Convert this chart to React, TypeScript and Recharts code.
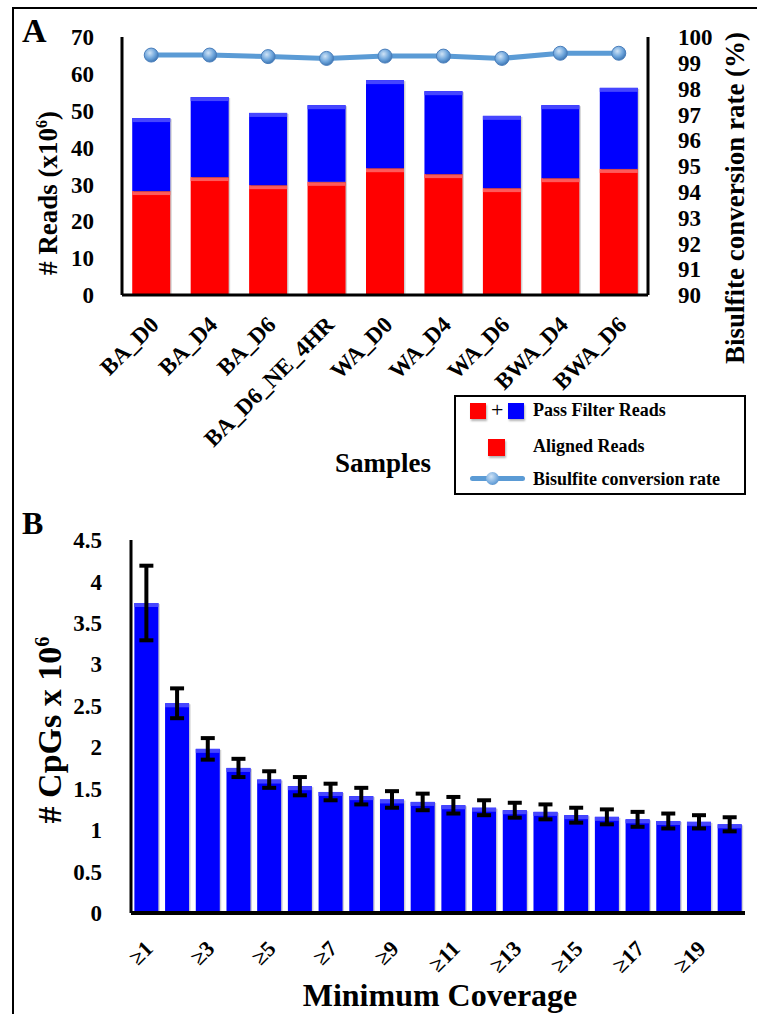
import { ComposedChart, Bar, Line, XAxis, YAxis, ErrorBar } from "recharts";

const samples = ["BA_D0", "BA_D4", "BA_D6", "BA_D6_NE_4HR", "WA_D0", "WA_D4", "WA_D6", "BWA_D4", "BWA_D6"];
const passFilterReads = [48.0, 53.7, 49.4, 51.5, 58.3, 55.3, 48.6, 51.5, 56.2];
const alignedReads = [28.2, 32.0, 29.8, 30.7, 34.4, 32.8, 29.0, 31.7, 34.2];
const conversionRate = [99.3, 99.3, 99.24, 99.17, 99.26, 99.26, 99.17, 99.37, 99.37];

const coverage = ["≥1", "≥2", "≥3", "≥4", "≥5", "≥6", "≥7", "≥8", "≥9", "≥10",
  "≥11", "≥12", "≥13", "≥14", "≥15", "≥16", "≥17", "≥18", "≥19", "≥20"];
const cpgs = [3.74, 2.53, 1.98, 1.75, 1.61, 1.53, 1.46, 1.41, 1.37, 1.34,
  1.3, 1.27, 1.24, 1.22, 1.18, 1.16, 1.13, 1.11, 1.1, 1.07];
const cpgErr = [0.45, 0.18, 0.13, 0.11, 0.1, 0.11, 0.1, 0.1, 0.1, 0.1,
  0.1, 0.09, 0.09, 0.09, 0.09, 0.09, 0.09, 0.09, 0.08, 0.085];

const readsTicks = [0, 10, 20, 30, 40, 50, 60, 70];
const rateTicks = [90, 91, 92, 93, 94, 95, 96, 97, 98, 99, 100];
const cpgTicks = [0, 0.5, 1, 1.5, 2, 2.5, 3, 3.5, 4, 4.5];

const readsData = samples.map((s, i) => ({
  sample: s,
  aligned: alignedReads[i],
  rest: passFilterReads[i] - alignedReads[i],
  rate: conversionRate[i],
}));
const cpgData = coverage.map((c, i) => ({ cov: c, cpgs: cpgs[i], err: cpgErr[i] }));

const FONT = "'Liberation Serif', 'Times New Roman', serif";
const RED = "#ff0000";
const BLUE = "#0000ff";

const bevel = (color: string, light: string) => (props: any) => {
  const { x, y, width, height } = props;
  if (!height || height <= 0) return null;
  return (
    <g>
      <rect x={x + 1.5} y={y + 1} width={width} height={height} fill="rgba(0,0,0,0.18)" />
      <rect x={x} y={y} width={width} height={height} fill={color} />
      <rect x={x} y={y} width={width} height={Math.min(4, height)} fill={light} />
    </g>
  );
};

const SlantTick = ({ x, y, payload, dx, dy, size }: any) => (
  <g transform={`translate(${x + dx},${y + dy})`}>
    <text transform="rotate(-45)" textAnchor="end" fontSize={size} fontWeight="bold" fontFamily={FONT} fill="#000">
      {payload.value}
    </text>
  </g>
);

const RateDot = (props: any) => {
  const { cx, cy, index } = props;
  return <circle key={index} cx={cx} cy={cy} r={7} fill="url(#dotGrad)" stroke="#4a7ebb" strokeWidth={1} />;
};

const tickStyle = { fill: "#000", fontSize: 23, fontWeight: "bold", fontFamily: FONT };

const abs = (left: number, top: number, extra: any = {}) => ({
  position: "absolute" as const, left, top, whiteSpace: "nowrap" as const, ...extra,
});

export default function App() {
  return (
    <div style={{ position: "relative", width: 757, height: 1014, background: "#fff", fontFamily: FONT, fontWeight: "bold", color: "#000" }}>
      <style>{`body{margin:0}`}</style>

      {/* frame */}
      <div style={abs(12, 7, { width: 745, height: 2, background: "#000" })} />
      <div style={abs(12, 7, { width: 2, height: 1007, background: "#000" })} />

      {/* Panel A */}
      <div style={abs(0, 0)}>
        <ComposedChart width={757} height={500} data={readsData} barCategoryGap="17.5%"
          margin={{ top: 37, right: 0, bottom: 0, left: 0 }}>
          <defs>
            <radialGradient id="dotGrad" cx="40%" cy="35%" r="65%">
              <stop offset="0%" stopColor="#cfe3f6" />
              <stop offset="60%" stopColor="#6fa6dc" />
              <stop offset="100%" stopColor="#3f78b5" />
            </radialGradient>
          </defs>
          <XAxis dataKey="sample" height={205} interval={0} tickLine={false} tickSize={0} tickMargin={0}
            axisLine={{ stroke: "#000", strokeWidth: 3 }}
            tick={<SlantTick dx={9} dy={31} size={23} />} />
          <YAxis yAxisId="left" width={122} domain={[0, 70]} ticks={readsTicks} interval={0}
            tickLine={false} tickMargin={22} axisLine={{ stroke: "#000", strokeWidth: 3 }} tick={tickStyle} />
          <YAxis yAxisId="right" orientation="right" width={109} domain={[90, 100]} ticks={rateTicks} interval={0}
            tickLine={false} tickMargin={24} axisLine={{ stroke: "#000", strokeWidth: 3 }} tick={tickStyle} />
          <Bar yAxisId="left" dataKey="aligned" stackId="r" fill={RED} shape={bevel(RED, "#ff5a5a")} isAnimationActive={false} />
          <Bar yAxisId="left" dataKey="rest" stackId="r" fill={BLUE} shape={bevel(BLUE, "#4646ff")} isAnimationActive={false} />
          <Line yAxisId="right" dataKey="rate" stroke="#5b9bd5" strokeWidth={5} dot={<RateDot />}
            activeDot={false} isAnimationActive={false} />
        </ComposedChart>
      </div>

      <div style={abs(22, 12, { fontSize: 34 })}>A</div>
      <div style={abs(48, 193, { fontSize: 27, transform: "translate(-50%,-50%) rotate(-90deg)" })}>
        # Reads (x10<sup style={{ fontSize: "0.6em" }}>6</sup>)
      </div>
      <div style={abs(735, 198, { fontSize: 27, transform: "translate(-50%,-50%) rotate(-90deg)" })}>
        Bisulfite conversion rate (%)
      </div>
      <div style={abs(383, 463, { fontSize: 27, transform: "translate(-50%,-50%)" })}>Samples</div>

      {/* legend */}
      <div style={abs(454, 395, { width: 288, height: 96, border: "2px solid #000", background: "#fff", fontSize: 18 })}>
        <div style={abs(14, 6, { width: 16, height: 16, background: RED, boxShadow: "1px 2px 2px rgba(0,0,0,0.3)" })} />
        <div style={abs(35, 0, { fontSize: 22, fontWeight: "normal" })}>+</div>
        <div style={abs(52, 6, { width: 16, height: 16, background: BLUE, boxShadow: "1px 2px 2px rgba(0,0,0,0.3)" })} />
        <div style={abs(77, 3)}>Pass Filter Reads</div>
        <div style={abs(32, 42, { width: 17, height: 17, background: RED, boxShadow: "1px 2px 2px rgba(0,0,0,0.3)" })} />
        <div style={abs(77, 39)}>Aligned Reads</div>
        <div style={abs(14, 79, { width: 55, height: 5, borderRadius: 3, background: "#5b9bd5" })} />
        <div style={abs(30, 75, { width: 13, height: 13, borderRadius: 7, background: "radial-gradient(circle at 40% 35%, #cfe3f6, #6fa6dc 60%, #3f78b5)" })} />
        <div style={abs(77, 72)}>Bisulfite conversion rate</div>
      </div>

      {/* Panel B */}
      <div style={abs(0, 500)}>
        <ComposedChart width={757} height={514} data={cpgData} barCategoryGap="11%"
          margin={{ top: 40, right: 12, bottom: 0, left: 0 }}>
          <XAxis dataKey="cov" height={101} interval={1} tickLine={false} tickSize={0} tickMargin={0}
            axisLine={{ stroke: "#000", strokeWidth: 4 }}
            tick={<SlantTick dx={8} dy={37} size={22} />} />
          <YAxis width={131} domain={[0, 4.5]} ticks={cpgTicks} interval={0} tickLine={false} tickMargin={23}
            axisLine={{ stroke: "#000", strokeWidth: 3 }} tick={tickStyle} />
          <Bar dataKey="cpgs" fill={BLUE} shape={bevel(BLUE, "#4646ff")} isAnimationActive={false}>
            <ErrorBar dataKey="err" direction="y" width={7} strokeWidth={4} stroke="#000" isAnimationActive={false} />
          </Bar>
        </ComposedChart>
      </div>

      <div style={abs(22, 505, { fontSize: 32 })}>B</div>
      <div style={abs(50, 730, { fontSize: 34, transform: "translate(-50%,-50%) rotate(-90deg)" })}>
        # CpGs x 10<sup style={{ fontSize: "0.6em" }}>6</sup>
      </div>
      <div style={abs(440, 995, { fontSize: 32, transform: "translate(-50%,-50%)" })}>Minimum Coverage</div>
    </div>
  );
}
